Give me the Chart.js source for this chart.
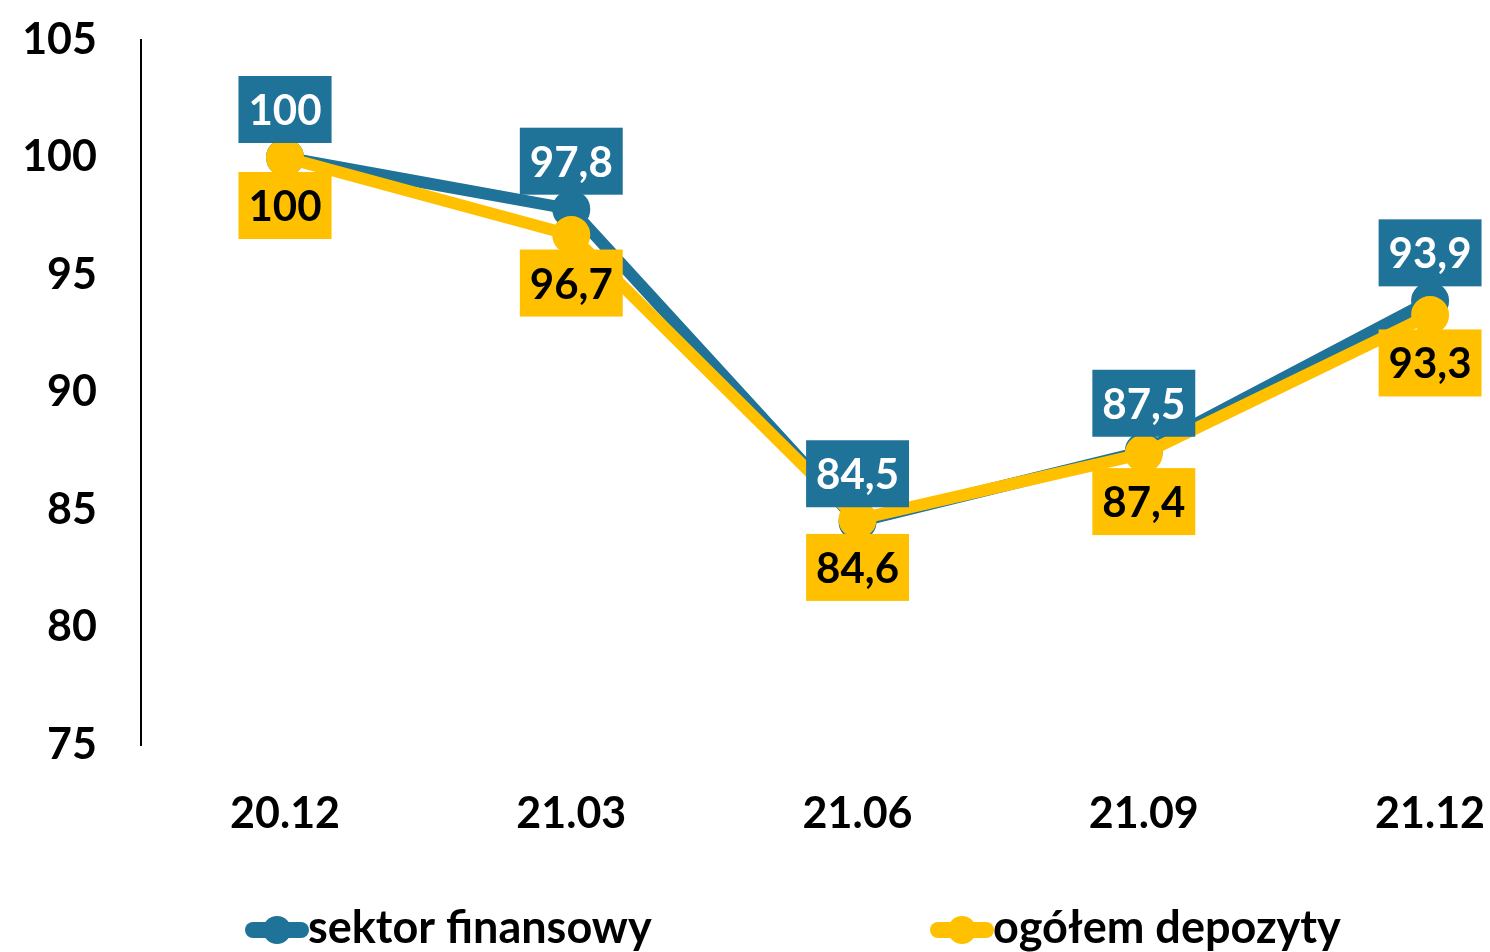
<!DOCTYPE html>
<html>
<head>
<meta charset="utf-8">
<script src="https://cdn.jsdelivr.net/npm/chart.js@4"></script>
<style>
  html, body { margin: 0; padding: 0; background: #fff; }
  #wrap { width: 1490px; height: 952px; }
</style>
</head>
<body>
<div id="wrap"><canvas id="depositChart" width="1490" height="952"></canvas></div>
<script>
// data
const periods = ['20.12', '21.03', '21.06', '21.09', '21.12'];
const sektorFinansowy = [100, 97.8, 84.5, 87.5, 93.9];
const ogolemDepozyty = [100, 96.7, 84.6, 87.4, 93.3];
const yTicks = [75, 80, 85, 90, 95, 100, 105];

const BLUE = '#1f7298';
const GOLD = '#ffc000';
const FONT = 'Lato, "Open Sans", sans-serif';

const fmt = v => String(v).replace('.', ',');

// boxed value labels, blue above, gold below
const boxLabels = {
  id: 'boxLabels',
  afterDatasetsDraw(chart) {
    const ctx = chart.ctx;
    ctx.save();
    ctx.font = 'bold 42px ' + FONT;
    ctx.textAlign = 'center';
    ctx.textBaseline = 'middle';
    chart.data.datasets.forEach((ds, di) => {
      const meta = chart.getDatasetMeta(di);
      const above = ds.labelPos === 'above';
      meta.data.forEach((pt, i) => {
        const txt = fmt(ds.data[i].y);
        const w = ctx.measureText(txt).width + 20;
        const h = 67;
        const cy = above ? pt.y - 48 : pt.y + 48;
        ctx.fillStyle = ds.borderColor;
        ctx.fillRect(pt.x - w / 2, cy - h / 2, w, h);
        ctx.fillStyle = above ? '#fff' : '#000';
        ctx.fillText(txt, pt.x, cy + 2);
      });
    });
    ctx.restore();
  }
};

// excel-like legend: thick line with a dot, then the name
const bottomLegend = {
  id: 'bottomLegend',
  afterDraw(chart) {
    const ctx = chart.ctx;
    const xs = [245, 930];
    const y = 930;
    ctx.save();
    chart.data.datasets.forEach((ds, i) => {
      const x = xs[i];
      ctx.strokeStyle = ds.borderColor;
      ctx.lineWidth = 16;
      ctx.lineCap = 'round';
      ctx.beginPath();
      ctx.moveTo(x + 8, y);
      ctx.lineTo(x + 56, y);
      ctx.stroke();
      ctx.fillStyle = ds.borderColor;
      ctx.beginPath();
      ctx.arc(x + 32, y, 14, 0, Math.PI * 2);
      ctx.fill();
      ctx.fillStyle = '#000';
      ctx.font = 'bold 45px ' + FONT;
      ctx.textAlign = 'left';
      ctx.textBaseline = 'middle';
      ctx.fillText(ds.label, x + 63, y - 2);
    });
    ctx.restore();
  }
};

const depositChart = new Chart(document.getElementById('depositChart'), {
  type: 'line',
  data: {
    datasets: [{
      label: 'sektor finansowy',
      data: sektorFinansowy.map((v, i) => ({ x: i, y: v })),
      borderColor: BLUE,
      backgroundColor: BLUE,
      borderWidth: 12,
      pointRadius: 13,
      pointHoverRadius: 13,
      order: 1,
      labelPos: 'above'
    }, {
      label: 'ogółem depozyty',
      data: ogolemDepozyty.map((v, i) => ({ x: i, y: v })),
      borderColor: GOLD,
      backgroundColor: GOLD,
      borderWidth: 12,
      pointRadius: 13,
      pointHoverRadius: 13,
      order: 0,
      labelPos: 'below'
    }]
  },
  options: {
    responsive: false,
    animation: false,
    layout: { padding: { top: 40, right: 2, left: 0, bottom: 0 } },
    plugins: {
      legend: { display: false },
      tooltip: { enabled: false }
    },
    scales: {
      x: {
        type: 'linear',
        min: -0.5031,
        max: 4.122,
        grid: { display: false, drawTicks: false },
        border: { display: false },
        afterBuildTicks: s => { s.ticks = periods.map((_, i) => ({ value: i })); },
        afterFit: s => { s.height = 207; s.paddingLeft = 0; s.paddingRight = 0; },
        ticks: {
          padding: 43,
          maxRotation: 0,
          autoSkip: false,
          color: '#000',
          font: { family: FONT, size: 43, weight: 'bold' },
          callback: v => periods[v]
        }
      },
      y: {
        min: 75,
        max: 105,
        grid: { display: false, drawTicks: false },
        border: { display: true, color: '#000', width: 2 },
        afterBuildTicks: s => { s.ticks = yTicks.map(v => ({ value: v })); },
        afterFit: s => { s.width = 141; s.paddingTop = 0; s.paddingBottom = 0; },
        ticks: {
          padding: 44,
          color: '#000',
          font: { family: FONT, size: 43, weight: 'bold' }
        }
      }
    }
  },
  plugins: [boxLabels, bottomLegend]
});
</script>
</body>
</html>
